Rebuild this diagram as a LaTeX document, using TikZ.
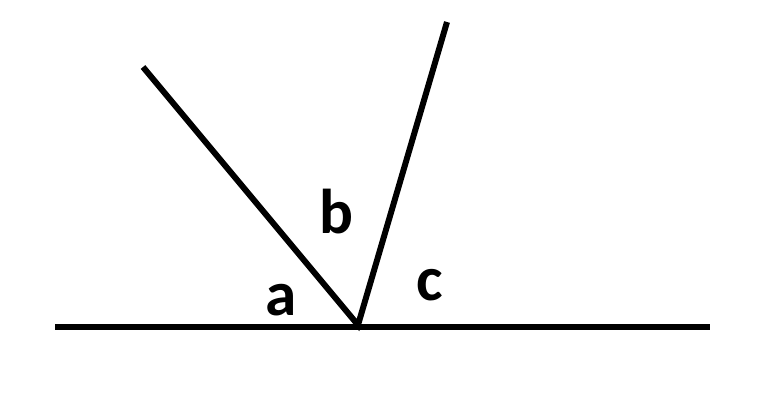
\documentclass[tikz,border=0pt]{standalone}
\usepackage{fontspec}
\setmainfont{Carlito}
\usetikzlibrary{positioning}

\begin{document}
\begin{tikzpicture}[x=1cm, y=1cm,
    ray/.style={line width=1.7pt, line cap=butt},
    anglelabel/.style={inner sep=0pt, font=\fontsize{18}{21}\selectfont\bfseries}]
    \useasboundingbox (0,0) rectangle (7.62,4.00);
    % Points
    \coordinate (left) at (0.55,0.73);
    \coordinate (right) at (7.10,0.73);
    \coordinate (vertex) at (3.58,0.75);
    \coordinate (tipA) at (1.43,3.33);
    \coordinate (tipB) at (4.47,3.78);
    % Lines
    \draw[ray] (left) -- (right);
    \draw[ray, line join=miter] (tipA) -- (vertex) -- (tipB);
    % Angles
    \node[anglelabel] (a) at (2.81,1.00) {a};
    \node[anglelabel] (b) at (3.36,1.88) {b};
    \node[anglelabel] (c) at (4.30,1.15) {c};
\end{tikzpicture}
\end{document}
